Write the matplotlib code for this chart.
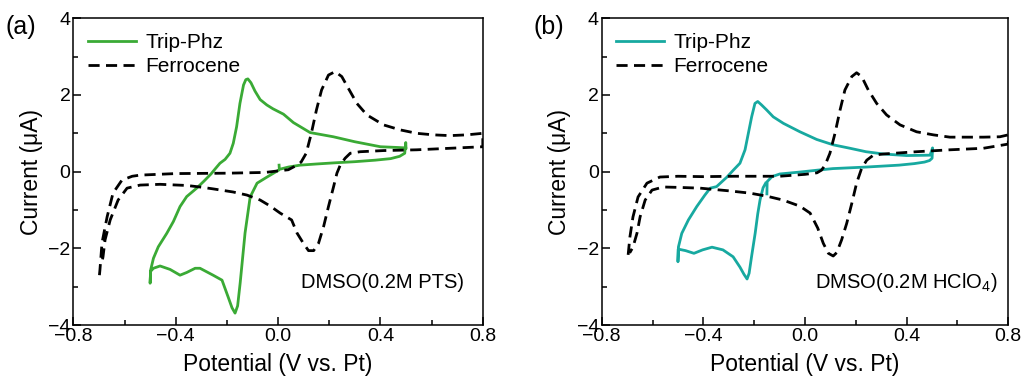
import numpy as np
import matplotlib
matplotlib.use("Agg")
import matplotlib.pyplot as plt
from matplotlib.ticker import MultipleLocator

plt.rcParams['font.family'] = ['Liberation Sans', 'DejaVu Sans']
plt.rcParams['mathtext.fontset'] = 'custom'
plt.rcParams['mathtext.rm'] = 'Liberation Sans'

# ---- panel (a): Trip-Phz in DMSO (0.2M PTS) ----
trip_a_x = [0.004, 0.005, 0.04, 0.086, 0.15, 0.22, 0.30, 0.38, 0.44, 0.475, 0.495, 0.499, 0.500,
            0.499, 0.47, 0.40, 0.30, 0.216, 0.125, 0.060, 0.021, -0.020, -0.044, -0.070, -0.090, -0.106,
            -0.118, -0.126, -0.135, -0.149, -0.162, -0.175, -0.188, -0.207, -0.227, -0.246, -0.262, -0.290,
            -0.318, -0.357, -0.383, -0.409, -0.435, -0.468, -0.487, -0.498, -0.500,
            -0.498, -0.487, -0.461, -0.422, -0.383, -0.357, -0.324, -0.305, -0.254, -0.219, -0.195,
            -0.180, -0.168, -0.158, -0.148, -0.129, -0.109, -0.082, -0.043, 0.000]
trip_a_y = [0.17, 0.06, 0.12, 0.17, 0.20, 0.23, 0.26, 0.30, 0.34, 0.40, 0.48, 0.76, 0.60,
            0.62, 0.63, 0.65, 0.78, 0.91, 1.02, 1.28, 1.50, 1.64, 1.74, 1.88, 2.10, 2.32,
            2.42, 2.40, 2.26, 1.78, 1.17, 0.74, 0.48, 0.32, 0.22, 0.07, -0.06, -0.25,
            -0.43, -0.65, -0.91, -1.30, -1.61, -1.96, -2.26, -2.57, -2.91,
            -2.60, -2.52, -2.46, -2.55, -2.70, -2.63, -2.52, -2.52, -2.70, -2.83, -3.27,
            -3.55, -3.69, -3.50, -2.90, -1.60, -0.66, -0.30, -0.14, 0.03]

fc_a_x = [-0.698, -0.696, -0.688, -0.668, -0.645, -0.610, -0.570, -0.539, -0.40, -0.20, -0.05, 0.00,
          0.04, 0.074, 0.09, 0.11, 0.13, 0.15, 0.17, 0.197, 0.223, 0.249, 0.275, 0.308, 0.347, 0.412,
          0.477, 0.542, 0.607, 0.672, 0.737, 0.800,
          0.800, 0.672, 0.542, 0.412, 0.321, 0.282, 0.262, 0.243, 0.230, 0.217, 0.197, 0.178, 0.158,
          0.139, 0.119, 0.099, 0.074, 0.053, 0.008, -0.030, -0.070, -0.122, -0.176, -0.253, -0.305,
          -0.357, -0.461, -0.539, -0.590, -0.625, -0.656, -0.676, -0.684, -0.690]
fc_a_y = [-2.70, -2.56, -1.86, -1.18, -0.56, -0.22, -0.12, -0.09, -0.05, -0.04, -0.02, 0.02,
          0.05, 0.17, 0.25, 0.48, 1.00, 1.61, 2.13, 2.52, 2.61, 2.48, 2.17, 1.78, 1.48, 1.22,
          1.09, 1.00, 0.96, 0.94, 0.96, 1.00,
          0.65, 0.61, 0.57, 0.55, 0.52, 0.48, 0.35, 0.17, -0.04, -0.39, -0.91, -1.43, -1.87,
          -2.06, -2.06, -1.87, -1.60, -1.26, -1.08, -0.90, -0.74, -0.61, -0.53, -0.45, -0.40,
          -0.36, -0.33, -0.35, -0.43, -0.74, -1.26, -1.78, -2.22, -2.43]

# ---- panel (b): Trip-Phz in DMSO (0.2M HClO4) ----
trip_b_x = [-0.150, -0.149, -0.130, -0.099, -0.020, 0.050, 0.110, 0.240, 0.370, 0.430, 0.470, 0.490,
            0.500, 0.502, 0.492, 0.400, 0.310, 0.240, 0.177, 0.111, 0.046, -0.020, -0.085, -0.125,
            -0.151, -0.171, -0.186, -0.197, -0.210, -0.223, -0.236, -0.256, -0.282, -0.307, -0.348,
            -0.373, -0.394, -0.426, -0.459, -0.485, -0.498, -0.500,
            -0.499, -0.470, -0.437, -0.403, -0.366, -0.323, -0.283, -0.256, -0.240, -0.228,
            -0.220, -0.210, -0.196, -0.186, -0.177, -0.165, -0.155]
trip_b_y = [-0.58, -0.26, -0.13, -0.06, -0.01, 0.04, 0.08, 0.12, 0.17, 0.21, 0.25, 0.29,
            0.35, 0.62, 0.43, 0.42, 0.46, 0.52, 0.61, 0.70, 0.84, 1.04, 1.26, 1.43,
            1.61, 1.74, 1.83, 1.78, 1.43, 1.00, 0.57, 0.22, 0.04, -0.14, -0.39,
            -0.43, -0.61, -0.91, -1.26, -1.61, -1.96, -2.35,
            -2.02, -2.06, -2.13, -2.04, -1.97, -2.04, -2.22, -2.49, -2.68, -2.80,
            -2.65, -2.20, -1.60, -1.10, -0.74, -0.42, -0.30]

fc_b_x = [-0.696, -0.689, -0.677, -0.657, -0.622, -0.571, -0.500, -0.400, -0.280, -0.100, 0.000,
          0.047, 0.065, 0.079, 0.098, 0.118, 0.138, 0.157, 0.184, 0.203, 0.223, 0.249, 0.282, 0.321,
          0.374, 0.439, 0.505, 0.570, 0.636, 0.702, 0.767, 0.800,
          0.800, 0.702, 0.570, 0.439, 0.308, 0.269, 0.243, 0.223, 0.203, 0.184, 0.164, 0.144, 0.125,
          0.111, 0.092, 0.072, 0.050, 0.020, -0.020, -0.087, -0.150, -0.217, -0.300, -0.413,
          -0.500, -0.558, -0.602, -0.629, -0.649, -0.661, -0.677, -0.690]
fc_b_y = [-2.17, -1.70, -1.18, -0.66, -0.30, -0.14, -0.12, -0.13, -0.12, -0.12, -0.07,
          -0.03, 0.04, 0.17, 0.48, 1.00, 1.61, 2.13, 2.48, 2.58, 2.48, 2.13, 1.78, 1.48,
          1.22, 1.04, 0.96, 0.90, 0.90, 0.90, 0.91, 0.96,
          0.72, 0.61, 0.57, 0.52, 0.46, 0.43, 0.30, 0.09, -0.30, -0.83, -1.35, -1.78, -2.11,
          -2.20, -2.13, -1.87, -1.47, -1.08, -0.90, -0.74, -0.64, -0.56, -0.50, -0.43,
          -0.41, -0.40, -0.48, -0.74, -1.18, -1.60, -1.97, -2.12]

panels = [
    ("(a)", trip_a_x, trip_a_y, fc_a_x, fc_a_y, "#3aaa35", "DMSO(0.2M PTS)", 0.728),
    ("(b)", trip_b_x, trip_b_y, fc_b_x, fc_b_y, "#17a9a0", "DMSO(0.2M HClO$_4$)", 0.758),
]
axes_rects = [[0.0714, 0.1514, 0.3987, 0.8008], [0.5859, 0.1514, 0.3959, 0.8008]]

fig = plt.figure(figsize=(10.27, 3.83), dpi=100)

for rect, (tag, tx, ty, fx, fy, col, note, note_x) in zip(axes_rects, panels):
    ax = fig.add_axes(rect)
    ax.plot(tx, ty, color=col, lw=2.0, label="Trip-Phz", solid_joinstyle='round')
    ax.plot(fx, fy, color="black", lw=2.0, ls=(0, (4.0, 2.3)), label="Ferrocene")

    ax.set_xlim(-0.8, 0.8)
    ax.set_ylim(-4, 4)
    ax.xaxis.set_major_locator(MultipleLocator(0.4))
    ax.xaxis.set_minor_locator(MultipleLocator(0.2))
    ax.yaxis.set_major_locator(MultipleLocator(2))
    ax.yaxis.set_minor_locator(MultipleLocator(1))
    ax.xaxis.set_major_formatter(plt.FuncFormatter(lambda v, p: f"{v:.1f}".replace("-", "\u2212")))
    ax.tick_params(which='both', direction='in', top=False, right=False,
                   labelsize=14, width=1.1)
    ax.tick_params(which='major', length=5.5, pad=2)
    ax.tick_params(which='minor', length=3.5)
    for s in ax.spines.values():
        s.set_linewidth(1.1)

    ax.set_xlabel("Potential (V vs. Pt)", fontsize=16.5, labelpad=6)
    ax.set_ylabel("Current (\u03bcA)", fontsize=16.5, labelpad=4)

    ax.legend(loc='upper left', frameon=False, fontsize=15, handlelength=2.3,
              handletextpad=0.45, borderaxespad=0.3, labelspacing=0.25,
              bbox_to_anchor=(0.0, 1.0))
    ax.text(note_x, -2.88, note, ha='right', va='center', fontsize=14.5)

    bb = ax.get_position()
    fig.text(bb.x0 - 0.066, 0.93, tag, fontsize=18, ha='left', va='center')

fig.savefig("out.png", dpi=100)
